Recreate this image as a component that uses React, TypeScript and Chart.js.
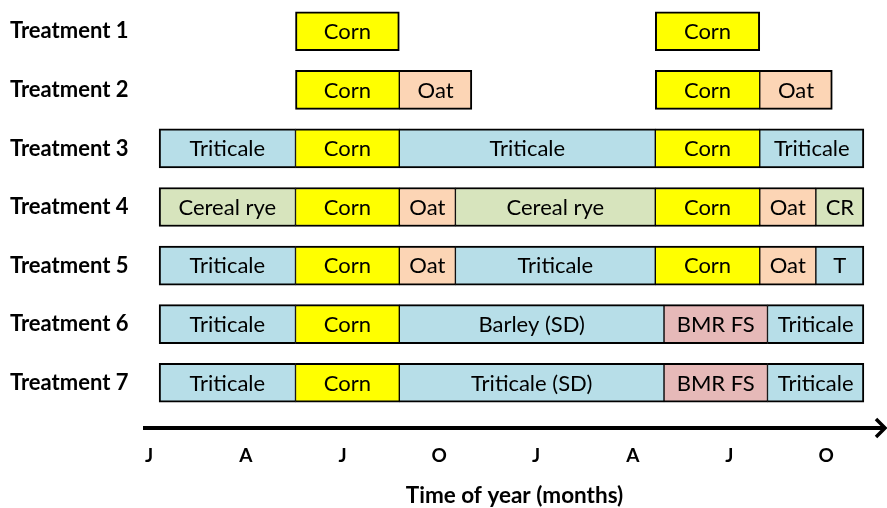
import React, { useEffect, useRef } from 'react';
import { Chart, registerables } from 'chart.js';

Chart.register(...registerables);

// Categories (rows)
const treatments = ['Treatment 1', 'Treatment 2', 'Treatment 3', 'Treatment 4', 'Treatment 5', 'Treatment 6', 'Treatment 7'];

// Time axis: months counted from the first January label
const monthTicks = [0, 3, 6, 9, 12, 15, 18, 21];
const monthLabels = ['J', 'A', 'J', 'O', 'J', 'A', 'J', 'O'];

// Crop sequences per treatment: crop names and [start, end] in months
const treatment1Crops = ['Corn', 'Corn'];
const treatment1Spans = [[4.54, 7.76], [15.7, 18.94]];

const treatment2Crops = ['Corn', 'Oat', 'Corn', 'Oat'];
const treatment2Spans = [[4.54, 7.76], [7.76, 10.01], [15.7, 18.94], [18.94, 21.19]];

const treatment3Crops = ['Triticale', 'Corn', 'Triticale', 'Corn', 'Triticale'];
const treatment3Spans = [[0.31, 4.54], [4.54, 7.76], [7.76, 15.7], [15.7, 18.94], [18.94, 22.17]];

const treatment4Crops = ['Cereal rye', 'Corn', 'Oat', 'Cereal rye', 'Corn', 'Oat', 'CR'];
const treatment4Spans = [[0.31, 4.54], [4.54, 7.76], [7.76, 9.5], [9.5, 15.7], [15.7, 18.94], [18.94, 20.68], [20.68, 22.17]];

const treatment5Crops = ['Triticale', 'Corn', 'Oat', 'Triticale', 'Corn', 'Oat', 'T'];
const treatment5Spans = [[0.31, 4.54], [4.54, 7.76], [7.76, 9.5], [9.5, 15.7], [15.7, 18.94], [18.94, 20.68], [20.68, 22.17]];

const treatment6Crops = ['Triticale', 'Corn', 'Barley (SD)', 'BMR FS', 'Triticale'];
const treatment6Spans = [[0.31, 4.54], [4.54, 7.76], [7.76, 15.97], [15.97, 19.18], [19.18, 22.17]];

const treatment7Crops = ['Triticale', 'Corn', 'Triticale (SD)', 'BMR FS', 'Triticale'];
const treatment7Spans = [[0.31, 4.54], [4.54, 7.76], [7.76, 15.97], [15.97, 19.18], [19.18, 22.17]];

const cropColors: Record<string, string> = {
  'Corn': '#FFFF00',
  'Oat': '#FCD5B5',
  'Triticale': '#B7DEE8',
  'T': '#B7DEE8',
  'Barley (SD)': '#B7DEE8',
  'Triticale (SD)': '#B7DEE8',
  'Cereal rye': '#D7E4BD',
  'CR': '#D7E4BD',
  'BMR FS': '#E6B9B8',
};

const rows: [string[], number[][]][] = [
  [treatment1Crops, treatment1Spans],
  [treatment2Crops, treatment2Spans],
  [treatment3Crops, treatment3Spans],
  [treatment4Crops, treatment4Spans],
  [treatment5Crops, treatment5Spans],
  [treatment6Crops, treatment6Spans],
  [treatment7Crops, treatment7Spans],
];

function buildDatasets() {
  const maxSeg = Math.max(...rows.map(r => r[1].length));
  const datasets: any[] = [];
  for (let k = 0; k < maxSeg; k++) {
    const data: any[] = [];
    const colors: string[] = [];
    const names: string[] = [];
    const borders: any[] = [];
    rows.forEach(([crops, spans], r) => {
      const s = spans[k];
      if (!s) return;
      const isFirst = !spans.some(o => Math.abs(o[1] - s[0]) < 1e-6);
      const isLast = !spans.some(o => Math.abs(o[0] - s[1]) < 1e-6);
      data.push({ x: [s[0], s[1]], y: r + 1 });
      colors.push(cropColors[crops[k]]);
      names.push(crops[k]);
      borders.push({ top: 2, bottom: 2, left: isFirst ? 2 : 1, right: isLast ? 2 : 1 });
    });
    datasets.push({
      data,
      backgroundColor: colors,
      borderColor: '#000000',
      borderWidth: borders,
      borderSkipped: false,
      barThickness: 39,
      grouped: false,
      cropNames: names,
    });
  }
  return datasets;
}

const labelPlugin = {
  id: 'cropLabels',
  afterDatasetsDraw(chart: any) {
    const ctx = chart.ctx;
    ctx.save();
    ctx.font = '22px Lato';
    ctx.fillStyle = '#000000';
    ctx.textAlign = 'center';
    ctx.textBaseline = 'alphabetic';
    chart.data.datasets.forEach((ds: any, i: number) => {
      const meta = chart.getDatasetMeta(i);
      meta.data.forEach((el: any, j: number) => {
        const p = el.getProps(['x', 'y', 'base'], true);
        const cx = (p.x + p.base) / 2;
        ctx.fillText(ds.cropNames[j], cx, p.y + 7.8);
      });
    });
    ctx.restore();
  },
};

const arrowPlugin = {
  id: 'timeArrow',
  afterDraw(chart: any) {
    const { ctx, chartArea } = chart;
    const y = chartArea.bottom;
    ctx.save();
    ctx.strokeStyle = '#000000';
    ctx.lineWidth = 4;
    ctx.beginPath();
    ctx.moveTo(chartArea.left, y);
    ctx.lineTo(chartArea.right - 1, y);
    ctx.stroke();
    ctx.lineWidth = 3.5;
    ctx.lineJoin = 'miter';
    ctx.beginPath();
    ctx.moveTo(chartArea.right - 10, y - 9);
    ctx.lineTo(chartArea.right - 1, y);
    ctx.lineTo(chartArea.right - 10, y + 9);
    ctx.stroke();
    ctx.restore();
  },
};

export default function App() {
  const canvasRef = useRef<HTMLCanvasElement | null>(null);

  useEffect(() => {
    if (!canvasRef.current) return;
    const chart = new Chart(canvasRef.current, {
      type: 'bar',
      data: { datasets: buildDatasets() },
      options: {
        animation: false,
        responsive: false,
        indexAxis: 'y',
        layout: { padding: { left: 10, right: 1, top: 0, bottom: 0 } },
        plugins: {
          legend: { display: false },
          tooltip: { enabled: false },
        },
        scales: {
          y: {
            type: 'linear',
            reverse: true,
            offset: false,
            min: 0.466,
            max: 7.772,
            grid: { display: false, offset: false },
            border: { display: false },
            ticks: {
              crossAlign: 'far',
              color: '#000000',
              font: { family: 'Lato', size: 22, weight: 'bold' },
              callback: (v: any) => treatments[Math.round(Number(v)) - 1] ?? '',
            },
            afterBuildTicks: (scale: any) => {
              scale.ticks = treatments.map((_, i) => ({ value: i + 1 }));
            },
            afterFit: (scale: any) => {
              scale.width = 133;
              scale.paddingTop = 0;
              scale.paddingBottom = 0;
            },
          },
          x: {
            type: 'linear',
            min: -0.19,
            max: 22.856,
            grid: { display: false, drawTicks: false },
            border: { display: false },
            ticks: {
              autoSkip: false,
              maxRotation: 0,
              padding: 16,
              color: '#000000',
              font: { family: 'Lato', size: 19, weight: 'bold' },
              callback: (_v: any, i: number) => monthLabels[i] ?? '',
            },
            afterBuildTicks: (scale: any) => {
              scale.ticks = monthTicks.map(v => ({ value: v }));
            },
            title: {
              display: true,
              text: 'Time of year (months)',
              color: '#000000',
              font: { family: 'Lato', size: 22.5, weight: 'bold', lineHeight: 1 },
              padding: { top: 0, bottom: 1 },
            },
            afterFit: (scale: any) => {
              scale.height = 80;
              scale.paddingLeft = 0;
              scale.paddingRight = 0;
            },
          },
        },
      } as any,
      plugins: [labelPlugin, arrowPlugin],
    });
    return () => chart.destroy();
  }, []);

  return (
    <div style={{ position: 'absolute', left: 0, top: 0, width: 887, height: 508, background: '#ffffff' }}>
      <canvas ref={canvasRef} width={887} height={508} />
    </div>
  );
}
